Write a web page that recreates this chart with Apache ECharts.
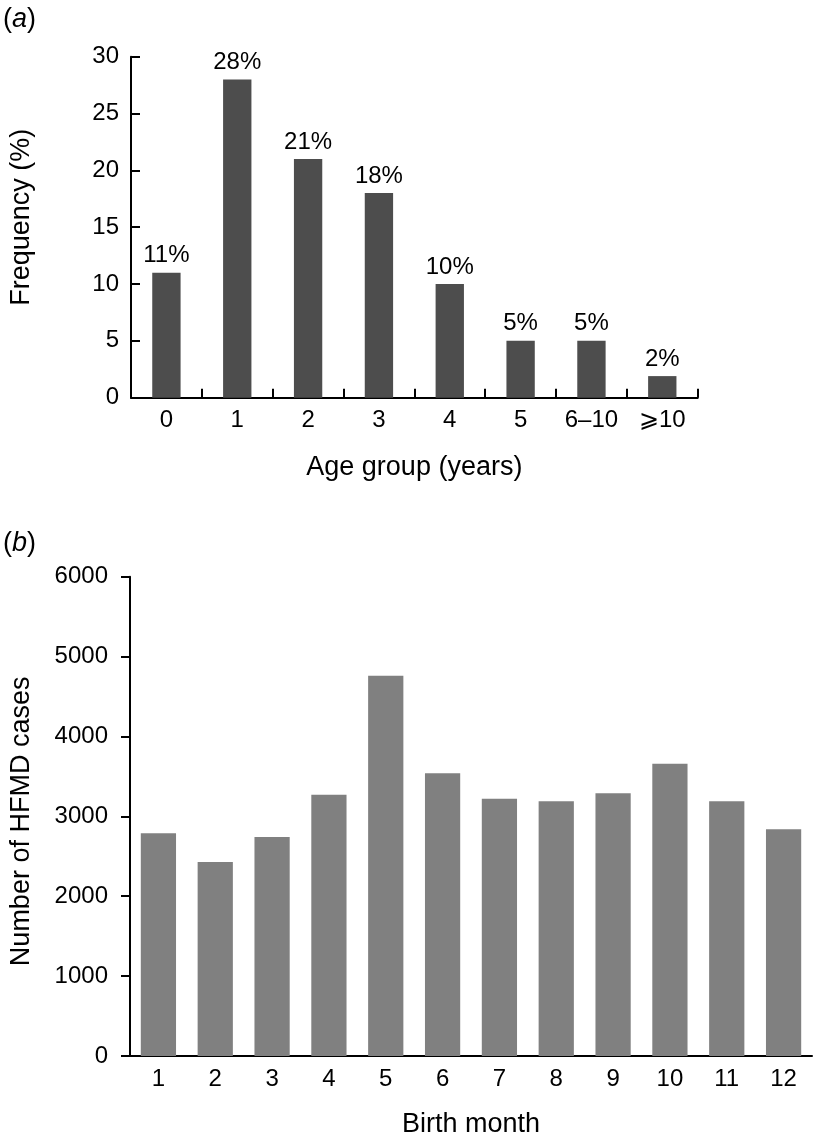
<!DOCTYPE html>
<html>
<head>
<meta charset="utf-8">
<script src="https://cdn.jsdelivr.net/npm/echarts@6/dist/echarts.min.js"></script>
<style>
html,body{margin:0;padding:0;background:#fff;}
#c{width:813px;height:1139px;}
</style>
</head>
<body>
<div id="c"></div>
<script>
// Panel (a): age groups
var ageGroups = ['0', '1', '2', '3', '4', '5', '6\u201310', '\u2a7e10'];
var ageFreq = [11, 28, 21, 18, 10, 5, 5, 1.9];
var ageTicks = [0, 5, 10, 15, 20, 25, 30];

// Panel (b): birth month
var months = ['1', '2', '3', '4', '5', '6', '7', '8', '9', '10', '11', '12'];
var cases = [2790, 2430, 2740, 3270, 4760, 3540, 3220, 3190, 3290, 3660, 3190, 2840];
var caseTicks = [0, 1000, 2000, 3000, 4000, 5000, 6000];

var FONT = '"Liberation Sans", Arial, Helvetica, sans-serif';
var TICK = 24, TITLE = 27;

var chart = echarts.init(document.getElementById('c'), null, {renderer: 'canvas'});
var axisLine = {show: true, lineStyle: {color: '#000', width: 2}};

chart.setOption({
  backgroundColor: '#fff',
  animation: false,
  textStyle: {fontFamily: FONT},
  grid: [
    {left: 127.7, top: 56.7, width: 570, height: 341, containLabel: false},
    {left: 126, top: 576.7, width: 686, height: 480, containLabel: false}
  ],
  xAxis: [
    {
      type: 'category', gridIndex: 0, data: ageGroups,
      axisLine: axisLine,
      axisTick: {show: true, inside: true, length: 9, lineStyle: {color: '#000', width: 2}},
      axisLabel: {color: '#000', fontSize: TICK, fontFamily: FONT, margin: 11, interval: 0},
      name: 'Age group (years)', nameLocation: 'middle', nameGap: 56,
      nameTextStyle: {color: '#000', fontSize: TITLE, fontFamily: FONT}
    },
    {
      type: 'category', gridIndex: 1, data: months,
      axisLine: axisLine,
      axisTick: {show: false},
      axisLabel: {color: '#000', fontSize: TICK, fontFamily: FONT, margin: 11, interval: 0},
      name: 'Birth month', nameLocation: 'middle', nameGap: 55,
      nameTextStyle: {color: '#000', fontSize: TITLE, fontFamily: FONT}
    }
  ],
  yAxis: [
    {
      type: 'value', gridIndex: 0,
      min: ageTicks[0], max: ageTicks[ageTicks.length - 1], interval: ageTicks[1] - ageTicks[0],
      axisLine: axisLine,
      axisTick: {show: true, inside: true, length: 9, lineStyle: {color: '#000', width: 2}},
      axisLabel: {color: '#000', fontSize: TICK, fontFamily: FONT, margin: 12},
      splitLine: {show: false},
      name: 'Frequency (%)', nameLocation: 'middle', nameGap: 96, nameRotate: 90,
      nameTextStyle: {color: '#000', fontSize: TITLE, fontFamily: FONT, padding: [0, 0, 0, 20]}
    },
    {
      type: 'value', gridIndex: 1,
      min: caseTicks[0], max: caseTicks[caseTicks.length - 1], interval: caseTicks[1] - caseTicks[0],
      axisLine: axisLine,
      axisTick: {show: true, inside: false, length: 9, lineStyle: {color: '#000', width: 2}},
      axisLabel: {color: '#000', fontSize: TICK, fontFamily: FONT, margin: 22,
        formatter: function (v) { return String(v); }},
      splitLine: {show: false},
      name: 'Number of HFMD cases', nameLocation: 'middle', nameGap: 95, nameRotate: 90,
      nameTextStyle: {color: '#000', fontSize: TITLE, fontFamily: FONT, padding: [0, 10, 0, 0]}
    }
  ],
  series: [
    {
      type: 'bar', xAxisIndex: 0, yAxisIndex: 0, data: ageFreq,
      barWidth: '40%',
      itemStyle: {color: '#4d4d4d'},
      label: {
        show: true, position: 'top', distance: 5, color: '#000',
        fontSize: TICK, fontFamily: FONT,
        formatter: function (p) { return Math.round(p.value) + '%'; }
      }
    },
    {
      type: 'bar', xAxisIndex: 1, yAxisIndex: 1, data: cases,
      barWidth: '62%',
      itemStyle: {color: '#808080'}
    }
  ],
  graphic: [
    {
      type: 'text', left: 3, top: 6,
      style: {
        text: '{n|(}{i|a}{n|)}',
        rich: {
          n: {fontSize: TITLE, fontFamily: FONT, fill: '#000'},
          i: {fontSize: TITLE, fontFamily: FONT, fontStyle: 'italic', fill: '#000'}
        }
      }
    },
    {
      type: 'text', left: 3, top: 530,
      style: {
        text: '{n|(}{i|b}{n|)}',
        rich: {
          n: {fontSize: TITLE, fontFamily: FONT, fill: '#000'},
          i: {fontSize: TITLE, fontFamily: FONT, fontStyle: 'italic', fill: '#000'}
        }
      }
    }
  ]
});
</script>
</body>
</html>
